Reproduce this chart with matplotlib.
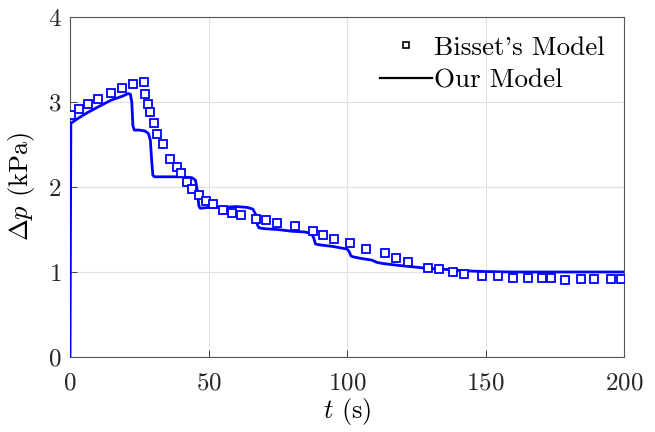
import matplotlib
matplotlib.use("Agg")
import matplotlib.pyplot as plt
from matplotlib.lines import Line2D

plt.rcParams['font.family'] = 'serif'
plt.rcParams['font.serif'] = ['cmr10', 'DejaVu Serif']
plt.rcParams['mathtext.fontset'] = 'cm'
plt.rcParams['axes.formatter.use_mathtext'] = True

# Bisset's model (markers)
bisset_t = [0.4, 3.2, 6.4, 10.0, 14.7, 18.9, 22.7, 26.8, 27.2, 28.0, 28.8, 30.2, 31.5, 33.6,
            36.1, 38.7, 40.1, 42.3, 44.2, 46.6, 49.1, 51.5, 55.1, 58.6, 61.6, 67.0, 70.6,
            74.7, 81.1, 87.8, 91.2, 95.4, 100.9, 106.9, 113.7, 117.7, 122.0, 129.1, 133.1,
            138.2, 142.1, 148.9, 154.6, 159.8, 165.3, 170.3, 173.6, 178.8, 184.4, 189.1,
            195.2, 198.9]
bisset_dp = [2.85, 2.92, 2.98, 3.04, 3.11, 3.16, 3.21, 3.24, 3.10, 2.98, 2.88, 2.75, 2.62, 2.51,
             2.33, 2.23, 2.16, 2.06, 1.98, 1.91, 1.84, 1.80, 1.73, 1.70, 1.67, 1.62, 1.61,
             1.58, 1.54, 1.48, 1.43, 1.39, 1.34, 1.27, 1.22, 1.16, 1.12, 1.05, 1.03,
             1.00, 0.98, 0.95, 0.95, 0.93, 0.93, 0.93, 0.93, 0.91, 0.92, 0.92,
             0.92, 0.92]

# Our model (line)
our_t = [0, 0.3, 3, 6, 10, 14.7, 19, 21, 21.8, 22.3, 22.7, 23.2, 25, 27, 28.3, 29.0, 29.5,
         29.9, 30.5, 35, 40, 44, 45.3, 46.0, 46.5, 47.0, 50, 55, 60, 64, 66, 67, 67.6, 68.2,
         70, 75, 80, 85, 87.2, 88, 88.6, 90, 95, 100, 100.8, 101.4, 102, 105, 109, 110.3,
         111.2, 113, 118, 124, 130, 136, 142, 150, 160, 175, 200]
our_dp = [0, 2.75, 2.81, 2.87, 2.94, 3.02, 3.07, 3.10, 3.09, 3.0, 2.72, 2.67, 2.67, 2.66,
          2.63, 2.55, 2.3, 2.14, 2.12, 2.12, 2.12, 2.11, 2.08, 1.95, 1.78, 1.75, 1.76, 1.76,
          1.77, 1.76, 1.74, 1.68, 1.56, 1.52, 1.51, 1.50, 1.48, 1.47, 1.45, 1.40, 1.33, 1.32,
          1.30, 1.27, 1.24, 1.19, 1.18, 1.16, 1.14, 1.12, 1.11, 1.10, 1.08, 1.06, 1.04, 1.03,
          1.015, 1.005, 1.0, 1.0, 1.0]

fig = plt.figure(figsize=(6.55, 4.32), dpi=100)
ax = fig.add_axes([0.1069, 0.1736, 0.8458, 0.787])

ax.plot(our_t, our_dp, color='#0000ff', lw=2.0, zorder=3)
ax.plot(bisset_t, bisset_dp, linestyle='none', marker='s', markersize=6,
        markerfacecolor='white', markeredgecolor='#0000ff', markeredgewidth=1.3, zorder=4)

ax.set_xlim(0, 200)
ax.set_ylim(0, 4)
ax.set_xticks([0, 50, 100, 150, 200])
ax.set_yticks([0, 1, 2, 3, 4])
ax.grid(True, color='#e0e0e0', lw=0.8)
ax.set_axisbelow(True)
ax.tick_params(direction='in', labelsize=18, length=5, width=0.6, top=False, right=False,
               colors='#262626')
ax.tick_params(axis='x', pad=11)
ax.tick_params(axis='y', pad=6)
for s in ax.spines.values():
    s.set_linewidth(0.8)
    s.set_color('#555555')

ax.set_xlabel(r'$t$ (s)', fontsize=19, labelpad=1)
ax.set_ylabel(r'$\Delta p$ (kPa)', fontsize=19, labelpad=8)

handles = [
    Line2D([], [], linestyle='none', marker='s', markersize=5, markerfacecolor='white',
           markeredgecolor='black', markeredgewidth=1.2),
    Line2D([], [], color='black', lw=1.6),
]
ax.legend(handles, ["Bisset's Model", 'Our Model'], loc='upper right', frameon=False,
          fontsize=19.5, handlelength=1.9, handletextpad=0.1, borderaxespad=0.4,
          labelspacing=0.3, borderpad=0.3)

fig.savefig('out.png', dpi=100)
